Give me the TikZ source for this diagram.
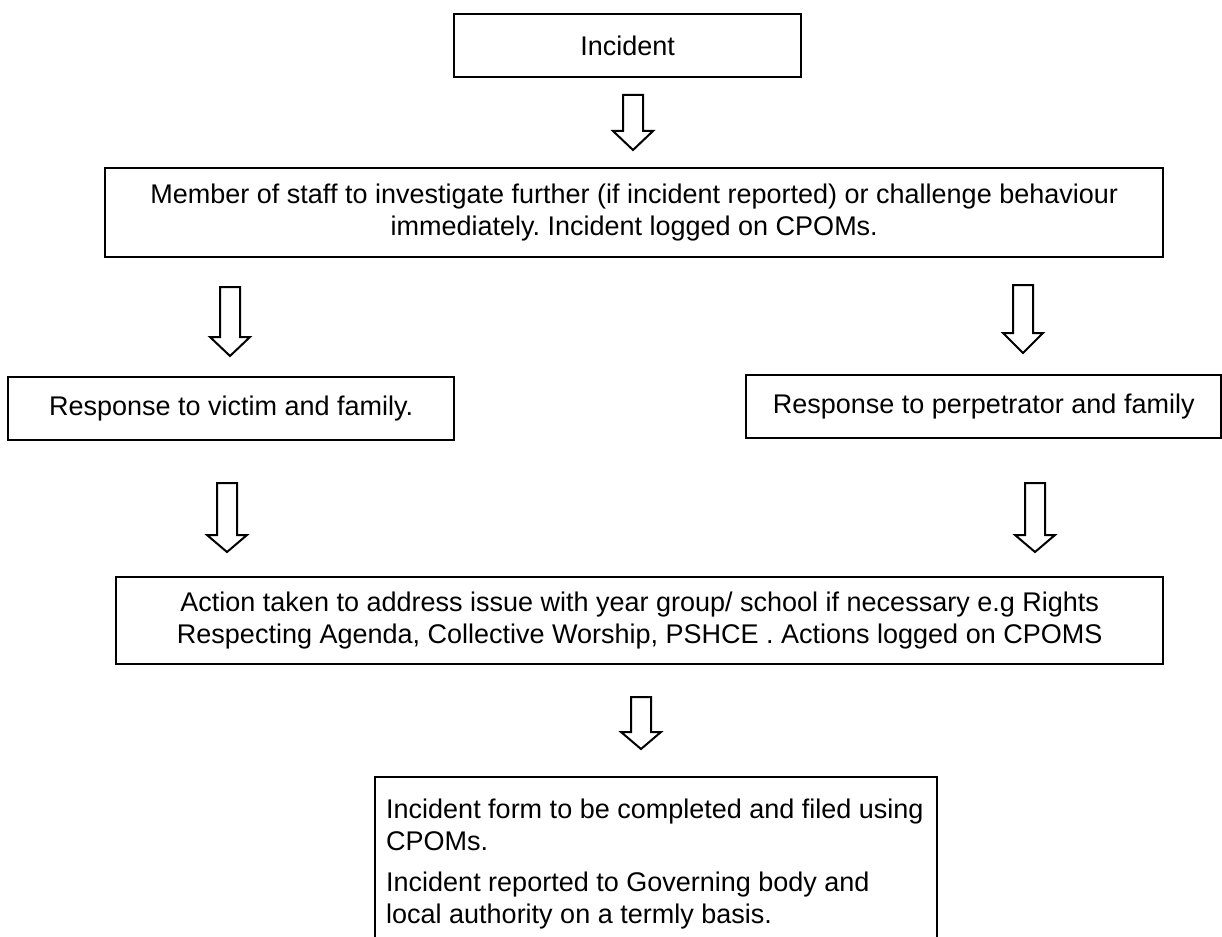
\documentclass[tikz,border=0pt]{standalone}
\usepackage{fontspec}
\setmainfont{Liberation Sans}
\frenchspacing
\begin{document}
\begin{tikzpicture}[x=1pt,y=-1pt,
  box/.style={draw=black, line width=2.4pt, anchor=north west, inner sep=0pt,
     font=\fontsize{27}{32}\selectfont, align=center},
  barrowstyle/.style={draw=black, line width=2pt, fill=white, line join=miter}]
\useasboundingbox (0,0) rectangle (1222,936);
\newcommand\blockarrow[5]{%
  \coordinate (#1) at (#2,#3);
  \draw[barrowstyle] (#2-10,#3) -- (#2+10,#3) -- (#2+10,#4) -- (#2+20,#4)
     -- (#2,#5) -- (#2-20,#4) -- (#2-10,#4) -- cycle;}
\node[box, minimum width=347pt, minimum height=63pt] (inc) at (453,13) {Incident};
\node[box, minimum width=1058pt, minimum height=89pt] (staff) at (104,167)
  {Member of staff to investigate further (if incident reported) or challenge behaviour\\immediately. Incident logged on CPOMs.};
\node[box, minimum width=446pt, minimum height=63pt] (victim) at (7,376) {Response to victim and family.};
\node[box, minimum width=475pt, minimum height=63pt] (perp) at (745,374) {Response to perpetrator and family};
\node[box, minimum width=1047pt, minimum height=87pt] (action) at (115,576)
  {Action taken to address issue with year group/ school if necessary e.g Rights\\Respecting Agenda, Collective Worship, PSHCE . Actions logged on CPOMS};
\draw[line width=2.4pt] (375,960) coordinate (fbl) -- (375,777) coordinate (ftl) -- (937,777) coordinate (ftr) -- (937,960) coordinate (fbr);
\node[anchor=north west, align=left, inner sep=0pt, font=\fontsize{27}{32}\selectfont] (form) at (386,799)
  {Incident form to be completed and filed using\\CPOMs.\\[9pt]Incident reported to Governing body and\\local authority on a termly basis.};
\blockarrow{a1}{633}{95}{131}{150}
\blockarrow{l1}{230}{287}{337}{356}
\blockarrow{r1}{1023}{285}{333}{353}
\blockarrow{l2}{227}{483}{535}{552}
\blockarrow{r2}{1035}{483}{535}{552}
\blockarrow{b1}{641}{697}{732}{749}
\end{tikzpicture}
\end{document}
